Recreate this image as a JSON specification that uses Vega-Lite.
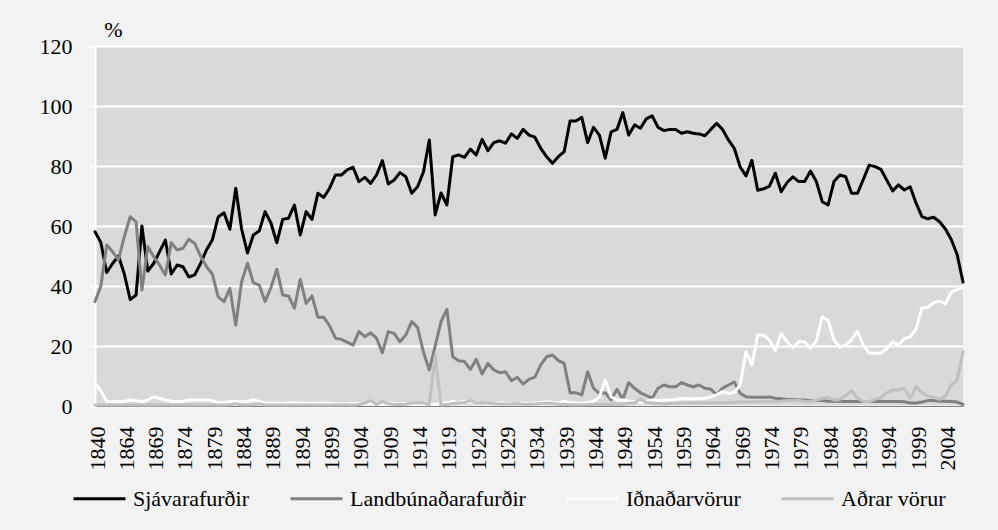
{
"$schema": "https://vega.github.io/schema/vega-lite/v6.json",
"width": 868, "height": 360,
"autosize": {"type": "none"},
"padding": {"left": 95, "top": 46, "right": 35, "bottom": 124},
"background": "#f2f2f2",
"config": {"view": {"fill": "#d9d9d9", "stroke": null}, "font": "Liberation Serif, Times New Roman, DejaVu Serif, serif"},
"data": {"values": [
{"year":1840,"series":"Sjávarafurðir","pct":58.1},{"year":1849,"series":"Sjávarafurðir","pct":54.5},{"year":1855,"series":"Sjávarafurðir","pct":44.5},{"year":1858,"series":"Sjávarafurðir","pct":47.5},{"year":1861,"series":"Sjávarafurðir","pct":50},
{"year":1864,"series":"Sjávarafurðir","pct":44},{"year":1865,"series":"Sjávarafurðir","pct":35.5},{"year":1866,"series":"Sjávarafurðir","pct":37},{"year":1867,"series":"Sjávarafurðir","pct":60},{"year":1868,"series":"Sjávarafurðir","pct":45},{"year":1869,"series":"Sjávarafurðir","pct":47.5},
{"year":1870,"series":"Sjávarafurðir","pct":51.4},{"year":1871,"series":"Sjávarafurðir","pct":55.3},{"year":1872,"series":"Sjávarafurðir","pct":44},{"year":1873,"series":"Sjávarafurðir","pct":47},{"year":1874,"series":"Sjávarafurðir","pct":46.4},{"year":1875,"series":"Sjávarafurðir","pct":43},{"year":1876,"series":"Sjávarafurðir","pct":43.7},{"year":1877,"series":"Sjávarafurðir","pct":47.5},{"year":1878,"series":"Sjávarafurðir","pct":52},{"year":1879,"series":"Sjávarafurðir","pct":55.3},
{"year":1880,"series":"Sjávarafurðir","pct":63},{"year":1881,"series":"Sjávarafurðir","pct":64.4},{"year":1882,"series":"Sjávarafurðir","pct":58.9},{"year":1883,"series":"Sjávarafurðir","pct":72.6},{"year":1884,"series":"Sjávarafurðir","pct":59},{"year":1885,"series":"Sjávarafurðir","pct":51},{"year":1886,"series":"Sjávarafurðir","pct":57},{"year":1887,"series":"Sjávarafurðir","pct":58.3},{"year":1888,"series":"Sjávarafurðir","pct":64.8},{"year":1889,"series":"Sjávarafurðir","pct":61},
{"year":1890,"series":"Sjávarafurðir","pct":54.4},{"year":1891,"series":"Sjávarafurðir","pct":62.2},{"year":1892,"series":"Sjávarafurðir","pct":62.6},{"year":1893,"series":"Sjávarafurðir","pct":67},{"year":1894,"series":"Sjávarafurðir","pct":57},{"year":1895,"series":"Sjávarafurðir","pct":64.8},{"year":1896,"series":"Sjávarafurðir","pct":62.2},{"year":1897,"series":"Sjávarafurðir","pct":70.9},{"year":1898,"series":"Sjávarafurðir","pct":69.5},{"year":1899,"series":"Sjávarafurðir","pct":72.6},
{"year":1900,"series":"Sjávarafurðir","pct":77},{"year":1901,"series":"Sjávarafurðir","pct":77},{"year":1902,"series":"Sjávarafurðir","pct":78.7},{"year":1903,"series":"Sjávarafurðir","pct":79.6},{"year":1904,"series":"Sjávarafurðir","pct":74.8},{"year":1905,"series":"Sjávarafurðir","pct":76.2},{"year":1906,"series":"Sjávarafurðir","pct":74.2},{"year":1907,"series":"Sjávarafurðir","pct":77},{"year":1908,"series":"Sjávarafurðir","pct":81.8},{"year":1909,"series":"Sjávarafurðir","pct":74},
{"year":1910,"series":"Sjávarafurðir","pct":75.3},{"year":1911,"series":"Sjávarafurðir","pct":77.8},{"year":1912,"series":"Sjávarafurðir","pct":76.4},{"year":1913,"series":"Sjávarafurðir","pct":70.9},{"year":1914,"series":"Sjávarafurðir","pct":73.1},{"year":1915,"series":"Sjávarafurðir","pct":78},{"year":1916,"series":"Sjávarafurðir","pct":88.7},{"year":1917,"series":"Sjávarafurðir","pct":63.7},{"year":1918,"series":"Sjávarafurðir","pct":71},{"year":1919,"series":"Sjávarafurðir","pct":67},
{"year":1920,"series":"Sjávarafurðir","pct":83.1},{"year":1921,"series":"Sjávarafurðir","pct":83.7},{"year":1922,"series":"Sjávarafurðir","pct":82.9},{"year":1923,"series":"Sjávarafurðir","pct":85.6},{"year":1924,"series":"Sjávarafurðir","pct":83.7},{"year":1925,"series":"Sjávarafurðir","pct":88.9},{"year":1926,"series":"Sjávarafurðir","pct":85.1},{"year":1927,"series":"Sjávarafurðir","pct":87.8},{"year":1928,"series":"Sjávarafurðir","pct":88.4},{"year":1929,"series":"Sjávarafurðir","pct":87.6},
{"year":1930,"series":"Sjávarafurðir","pct":90.7},{"year":1931,"series":"Sjávarafurðir","pct":89.2},{"year":1932,"series":"Sjávarafurðir","pct":92.2},{"year":1933,"series":"Sjávarafurðir","pct":90.3},{"year":1934,"series":"Sjávarafurðir","pct":89.6},{"year":1935,"series":"Sjávarafurðir","pct":85.9},{"year":1936,"series":"Sjávarafurðir","pct":83.1},{"year":1937,"series":"Sjávarafurðir","pct":80.9},{"year":1938,"series":"Sjávarafurðir","pct":83.1},{"year":1939,"series":"Sjávarafurðir","pct":84.8},
{"year":1940,"series":"Sjávarafurðir","pct":95},{"year":1941,"series":"Sjávarafurðir","pct":95},{"year":1942,"series":"Sjávarafurðir","pct":96.2},{"year":1943,"series":"Sjávarafurðir","pct":87.8},{"year":1944,"series":"Sjávarafurðir","pct":92.9},{"year":1945,"series":"Sjávarafurðir","pct":90.3},{"year":1946,"series":"Sjávarafurðir","pct":82.6},{"year":1947,"series":"Sjávarafurðir","pct":91.4},{"year":1948,"series":"Sjávarafurðir","pct":92.2},{"year":1949,"series":"Sjávarafurðir","pct":97.8},
{"year":1950,"series":"Sjávarafurðir","pct":90.3},{"year":1951,"series":"Sjávarafurðir","pct":93.7},{"year":1952,"series":"Sjávarafurðir","pct":92.6},{"year":1953,"series":"Sjávarafurðir","pct":95.7},{"year":1954,"series":"Sjávarafurðir","pct":96.7},{"year":1955,"series":"Sjávarafurðir","pct":92.9},{"year":1956,"series":"Sjávarafurðir","pct":91.8},{"year":1957,"series":"Sjávarafurðir","pct":92.2},{"year":1958,"series":"Sjávarafurðir","pct":92.2},{"year":1959,"series":"Sjávarafurðir","pct":90.9},
{"year":1960,"series":"Sjávarafurðir","pct":91.4},{"year":1961,"series":"Sjávarafurðir","pct":90.9},{"year":1962,"series":"Sjávarafurðir","pct":90.7},{"year":1963,"series":"Sjávarafurðir","pct":90.1},{"year":1964,"series":"Sjávarafurðir","pct":92.2},{"year":1965,"series":"Sjávarafurðir","pct":94.2},{"year":1966,"series":"Sjávarafurðir","pct":92.2},{"year":1967,"series":"Sjávarafurðir","pct":88.7},{"year":1968,"series":"Sjávarafurðir","pct":85.9},{"year":1969,"series":"Sjávarafurðir","pct":79.7},
{"year":1970,"series":"Sjávarafurðir","pct":76.7},{"year":1971,"series":"Sjávarafurðir","pct":81.9},{"year":1972,"series":"Sjávarafurðir","pct":71.9},{"year":1973,"series":"Sjávarafurðir","pct":72.4},{"year":1974,"series":"Sjávarafurðir","pct":73.3},{"year":1975,"series":"Sjávarafurðir","pct":77.6},{"year":1976,"series":"Sjávarafurðir","pct":71.4},{"year":1977,"series":"Sjávarafurðir","pct":74.5},{"year":1978,"series":"Sjávarafurðir","pct":76.4},{"year":1979,"series":"Sjávarafurðir","pct":74.8},
{"year":1980,"series":"Sjávarafurðir","pct":74.8},{"year":1981,"series":"Sjávarafurðir","pct":78.3},{"year":1982,"series":"Sjávarafurðir","pct":74.8},{"year":1983,"series":"Sjávarafurðir","pct":68.1},{"year":1984,"series":"Sjávarafurðir","pct":67},{"year":1985,"series":"Sjávarafurðir","pct":74.8},{"year":1986,"series":"Sjávarafurðir","pct":77},{"year":1987,"series":"Sjávarafurðir","pct":76.4},{"year":1988,"series":"Sjávarafurðir","pct":70.9},{"year":1989,"series":"Sjávarafurðir","pct":70.9},
{"year":1990,"series":"Sjávarafurðir","pct":75.5},{"year":1991,"series":"Sjávarafurðir","pct":80.3},{"year":1992,"series":"Sjávarafurðir","pct":79.8},{"year":1993,"series":"Sjávarafurðir","pct":78.9},{"year":1994,"series":"Sjávarafurðir","pct":75.3},{"year":1995,"series":"Sjávarafurðir","pct":71.7},{"year":1996,"series":"Sjávarafurðir","pct":73.7},{"year":1997,"series":"Sjávarafurðir","pct":72},{"year":1998,"series":"Sjávarafurðir","pct":73.1},{"year":1999,"series":"Sjávarafurðir","pct":67.6},
{"year":2000,"series":"Sjávarafurðir","pct":63.1},{"year":2001,"series":"Sjávarafurðir","pct":62.4},{"year":2002,"series":"Sjávarafurðir","pct":62.9},{"year":2003,"series":"Sjávarafurðir","pct":61.4},{"year":2004,"series":"Sjávarafurðir","pct":59},{"year":2005,"series":"Sjávarafurðir","pct":55.5},{"year":2006,"series":"Sjávarafurðir","pct":50.5},{"year":2007,"series":"Sjávarafurðir","pct":41.3},

{"year":1840,"series":"Landbúnaðarafurðir","pct":34.8},{"year":1849,"series":"Landbúnaðarafurðir","pct":40},{"year":1855,"series":"Landbúnaðarafurðir","pct":53.7},{"year":1858,"series":"Landbúnaðarafurðir","pct":51.4},{"year":1861,"series":"Landbúnaðarafurðir","pct":48.7},
{"year":1864,"series":"Landbúnaðarafurðir","pct":56.5},{"year":1865,"series":"Landbúnaðarafurðir","pct":63.1},{"year":1866,"series":"Landbúnaðarafurðir","pct":61.4},{"year":1867,"series":"Landbúnaðarafurðir","pct":38.7},{"year":1868,"series":"Landbúnaðarafurðir","pct":53.1},{"year":1869,"series":"Landbúnaðarafurðir","pct":49.8},
{"year":1870,"series":"Landbúnaðarafurðir","pct":47},{"year":1871,"series":"Landbúnaðarafurðir","pct":43.7},{"year":1872,"series":"Landbúnaðarafurðir","pct":54.4},{"year":1873,"series":"Landbúnaðarafurðir","pct":52},{"year":1874,"series":"Landbúnaðarafurðir","pct":52.6},{"year":1875,"series":"Landbúnaðarafurðir","pct":55.6},{"year":1876,"series":"Landbúnaðarafurðir","pct":54.2},{"year":1877,"series":"Landbúnaðarafurðir","pct":50},{"year":1878,"series":"Landbúnaðarafurðir","pct":46.5},{"year":1879,"series":"Landbúnaðarafurðir","pct":44},
{"year":1880,"series":"Landbúnaðarafurðir","pct":36.4},{"year":1881,"series":"Landbúnaðarafurðir","pct":34.8},{"year":1882,"series":"Landbúnaðarafurðir","pct":39.2},{"year":1883,"series":"Landbúnaðarafurðir","pct":27},{"year":1884,"series":"Landbúnaðarafurðir","pct":41.4},{"year":1885,"series":"Landbúnaðarafurðir","pct":47.6},{"year":1886,"series":"Landbúnaðarafurðir","pct":41.1},{"year":1887,"series":"Landbúnaðarafurðir","pct":40.3},{"year":1888,"series":"Landbúnaðarafurðir","pct":34.8},{"year":1889,"series":"Landbúnaðarafurðir","pct":39.5},
{"year":1890,"series":"Landbúnaðarafurðir","pct":45.6},{"year":1891,"series":"Landbúnaðarafurðir","pct":37},{"year":1892,"series":"Landbúnaðarafurðir","pct":36.7},{"year":1893,"series":"Landbúnaðarafurðir","pct":32.6},{"year":1894,"series":"Landbúnaðarafurðir","pct":42.2},{"year":1895,"series":"Landbúnaðarafurðir","pct":34.2},{"year":1896,"series":"Landbúnaðarafurðir","pct":36.7},{"year":1897,"series":"Landbúnaðarafurðir","pct":29.6},{"year":1898,"series":"Landbúnaðarafurðir","pct":29.6},{"year":1899,"series":"Landbúnaðarafurðir","pct":26.7},
{"year":1900,"series":"Landbúnaðarafurðir","pct":22.6},{"year":1901,"series":"Landbúnaðarafurðir","pct":22.2},{"year":1902,"series":"Landbúnaðarafurðir","pct":21.3},{"year":1903,"series":"Landbúnaðarafurðir","pct":20.3},{"year":1904,"series":"Landbúnaðarafurðir","pct":24.8},{"year":1905,"series":"Landbúnaðarafurðir","pct":23.1},{"year":1906,"series":"Landbúnaðarafurðir","pct":24.4},{"year":1907,"series":"Landbúnaðarafurðir","pct":22.6},{"year":1908,"series":"Landbúnaðarafurðir","pct":17.8},{"year":1909,"series":"Landbúnaðarafurðir","pct":24.8},
{"year":1910,"series":"Landbúnaðarafurðir","pct":24.2},{"year":1911,"series":"Landbúnaðarafurðir","pct":21.4},{"year":1912,"series":"Landbúnaðarafurðir","pct":23.7},{"year":1913,"series":"Landbúnaðarafurðir","pct":28.1},{"year":1914,"series":"Landbúnaðarafurðir","pct":26.2},{"year":1915,"series":"Landbúnaðarafurðir","pct":18},{"year":1916,"series":"Landbúnaðarafurðir","pct":12},{"year":1917,"series":"Landbúnaðarafurðir","pct":20},{"year":1918,"series":"Landbúnaðarafurðir","pct":28.1},{"year":1919,"series":"Landbúnaðarafurðir","pct":32.2},
{"year":1920,"series":"Landbúnaðarafurðir","pct":16.4},{"year":1921,"series":"Landbúnaðarafurðir","pct":15.1},{"year":1922,"series":"Landbúnaðarafurðir","pct":14.8},{"year":1923,"series":"Landbúnaðarafurðir","pct":12.2},{"year":1924,"series":"Landbúnaðarafurðir","pct":15.6},{"year":1925,"series":"Landbúnaðarafurðir","pct":10.7},{"year":1926,"series":"Landbúnaðarafurðir","pct":14.2},{"year":1927,"series":"Landbúnaðarafurðir","pct":12},{"year":1928,"series":"Landbúnaðarafurðir","pct":11.1},{"year":1929,"series":"Landbúnaðarafurðir","pct":11.4},
{"year":1930,"series":"Landbúnaðarafurðir","pct":8.4},{"year":1931,"series":"Landbúnaðarafurðir","pct":9.6},{"year":1932,"series":"Landbúnaðarafurðir","pct":7.3},{"year":1933,"series":"Landbúnaðarafurðir","pct":8.9},{"year":1934,"series":"Landbúnaðarafurðir","pct":9.6},{"year":1935,"series":"Landbúnaðarafurðir","pct":13.7},{"year":1936,"series":"Landbúnaðarafurðir","pct":16.4},{"year":1937,"series":"Landbúnaðarafurðir","pct":17},{"year":1938,"series":"Landbúnaðarafurðir","pct":15.1},{"year":1939,"series":"Landbúnaðarafurðir","pct":14.2},
{"year":1940,"series":"Landbúnaðarafurðir","pct":4.4},{"year":1941,"series":"Landbúnaðarafurðir","pct":4.4},{"year":1942,"series":"Landbúnaðarafurðir","pct":3.7},{"year":1943,"series":"Landbúnaðarafurðir","pct":11.4},{"year":1944,"series":"Landbúnaðarafurðir","pct":5.9},{"year":1945,"series":"Landbúnaðarafurðir","pct":4.2},{"year":1946,"series":"Landbúnaðarafurðir","pct":4.4},{"year":1947,"series":"Landbúnaðarafurðir","pct":2},{"year":1948,"series":"Landbúnaðarafurðir","pct":5.6},{"year":1949,"series":"Landbúnaðarafurðir","pct":2.2},
{"year":1950,"series":"Landbúnaðarafurðir","pct":7.8},{"year":1951,"series":"Landbúnaðarafurðir","pct":5.9},{"year":1952,"series":"Landbúnaðarafurðir","pct":4.4},{"year":1953,"series":"Landbúnaðarafurðir","pct":3.5},{"year":1954,"series":"Landbúnaðarafurðir","pct":2.6},{"year":1955,"series":"Landbúnaðarafurðir","pct":5.9},{"year":1956,"series":"Landbúnaðarafurðir","pct":7},{"year":1957,"series":"Landbúnaðarafurðir","pct":6.4},{"year":1958,"series":"Landbúnaðarafurðir","pct":6.4},{"year":1959,"series":"Landbúnaðarafurðir","pct":7.8},
{"year":1960,"series":"Landbúnaðarafurðir","pct":7},{"year":1961,"series":"Landbúnaðarafurðir","pct":6.4},{"year":1962,"series":"Landbúnaðarafurðir","pct":7},{"year":1963,"series":"Landbúnaðarafurðir","pct":5.9},{"year":1964,"series":"Landbúnaðarafurðir","pct":5.6},{"year":1965,"series":"Landbúnaðarafurðir","pct":3.7},{"year":1966,"series":"Landbúnaðarafurðir","pct":5.9},{"year":1967,"series":"Landbúnaðarafurðir","pct":7},{"year":1968,"series":"Landbúnaðarafurðir","pct":8},{"year":1969,"series":"Landbúnaðarafurðir","pct":4.2},
{"year":1970,"series":"Landbúnaðarafurðir","pct":3.1},{"year":1971,"series":"Landbúnaðarafurðir","pct":2.9},{"year":1972,"series":"Landbúnaðarafurðir","pct":2.9},{"year":1973,"series":"Landbúnaðarafurðir","pct":2.9},{"year":1974,"series":"Landbúnaðarafurðir","pct":3},{"year":1975,"series":"Landbúnaðarafurðir","pct":2.6},{"year":1976,"series":"Landbúnaðarafurðir","pct":2.4},{"year":1977,"series":"Landbúnaðarafurðir","pct":2.2},{"year":1978,"series":"Landbúnaðarafurðir","pct":2.2},{"year":1979,"series":"Landbúnaðarafurðir","pct":2},
{"year":1980,"series":"Landbúnaðarafurðir","pct":2},{"year":1981,"series":"Landbúnaðarafurðir","pct":1.8},{"year":1982,"series":"Landbúnaðarafurðir","pct":1.8},{"year":1983,"series":"Landbúnaðarafurðir","pct":1.8},{"year":1984,"series":"Landbúnaðarafurðir","pct":1.6},{"year":1985,"series":"Landbúnaðarafurðir","pct":1.6},{"year":1986,"series":"Landbúnaðarafurðir","pct":1.6},{"year":1987,"series":"Landbúnaðarafurðir","pct":1.5},{"year":1988,"series":"Landbúnaðarafurðir","pct":1.5},{"year":1989,"series":"Landbúnaðarafurðir","pct":1.5},
{"year":1990,"series":"Landbúnaðarafurðir","pct":1.5},{"year":1991,"series":"Landbúnaðarafurðir","pct":1.5},{"year":1992,"series":"Landbúnaðarafurðir","pct":1.5},{"year":1993,"series":"Landbúnaðarafurðir","pct":1.6},{"year":1994,"series":"Landbúnaðarafurðir","pct":1.5},{"year":1995,"series":"Landbúnaðarafurðir","pct":1.5},{"year":1996,"series":"Landbúnaðarafurðir","pct":1.5},{"year":1997,"series":"Landbúnaðarafurðir","pct":1.4},{"year":1998,"series":"Landbúnaðarafurðir","pct":1},{"year":1999,"series":"Landbúnaðarafurðir","pct":1},
{"year":2000,"series":"Landbúnaðarafurðir","pct":1.3},{"year":2001,"series":"Landbúnaðarafurðir","pct":1.8},{"year":2002,"series":"Landbúnaðarafurðir","pct":1.8},{"year":2003,"series":"Landbúnaðarafurðir","pct":1.6},{"year":2004,"series":"Landbúnaðarafurðir","pct":1.6},{"year":2005,"series":"Landbúnaðarafurðir","pct":1.5},{"year":2006,"series":"Landbúnaðarafurðir","pct":1.3},{"year":2007,"series":"Landbúnaðarafurðir","pct":0.5},

{"year":1840,"series":"Iðnaðarvörur","pct":7.6},{"year":1849,"series":"Iðnaðarvörur","pct":5},{"year":1855,"series":"Iðnaðarvörur","pct":1.5},{"year":1858,"series":"Iðnaðarvörur","pct":1.4},{"year":1861,"series":"Iðnaðarvörur","pct":1.4},
{"year":1864,"series":"Iðnaðarvörur","pct":1.5},{"year":1865,"series":"Iðnaðarvörur","pct":2},{"year":1866,"series":"Iðnaðarvörur","pct":1.8},{"year":1867,"series":"Iðnaðarvörur","pct":1.4},{"year":1868,"series":"Iðnaðarvörur","pct":2},{"year":1869,"series":"Iðnaðarvörur","pct":3.1},
{"year":1870,"series":"Iðnaðarvörur","pct":2.5},{"year":1871,"series":"Iðnaðarvörur","pct":2},{"year":1872,"series":"Iðnaðarvörur","pct":1.6},{"year":1873,"series":"Iðnaðarvörur","pct":1.4},{"year":1874,"series":"Iðnaðarvörur","pct":1.6},{"year":1875,"series":"Iðnaðarvörur","pct":2},{"year":1876,"series":"Iðnaðarvörur","pct":2},{"year":1877,"series":"Iðnaðarvörur","pct":2},{"year":1878,"series":"Iðnaðarvörur","pct":2},{"year":1879,"series":"Iðnaðarvörur","pct":1.8},
{"year":1880,"series":"Iðnaðarvörur","pct":1.1},{"year":1881,"series":"Iðnaðarvörur","pct":1.2},{"year":1882,"series":"Iðnaðarvörur","pct":1.4},{"year":1883,"series":"Iðnaðarvörur","pct":1.6},{"year":1884,"series":"Iðnaðarvörur","pct":1.3},{"year":1885,"series":"Iðnaðarvörur","pct":1.5},{"year":1886,"series":"Iðnaðarvörur","pct":2},{"year":1887,"series":"Iðnaðarvörur","pct":1.5},{"year":1888,"series":"Iðnaðarvörur","pct":1},{"year":1889,"series":"Iðnaðarvörur","pct":1},
{"year":1890,"series":"Iðnaðarvörur","pct":1},{"year":1891,"series":"Iðnaðarvörur","pct":0.8},{"year":1892,"series":"Iðnaðarvörur","pct":1},{"year":1893,"series":"Iðnaðarvörur","pct":1.2},{"year":1894,"series":"Iðnaðarvörur","pct":1},{"year":1895,"series":"Iðnaðarvörur","pct":0.8},{"year":1896,"series":"Iðnaðarvörur","pct":0.8},{"year":1897,"series":"Iðnaðarvörur","pct":1},{"year":1898,"series":"Iðnaðarvörur","pct":1},{"year":1899,"series":"Iðnaðarvörur","pct":0.8},
{"year":1900,"series":"Iðnaðarvörur","pct":0.7},{"year":1901,"series":"Iðnaðarvörur","pct":0.7},{"year":1902,"series":"Iðnaðarvörur","pct":0.7},{"year":1903,"series":"Iðnaðarvörur","pct":0.8},{"year":1904,"series":"Iðnaðarvörur","pct":0.8},{"year":1905,"series":"Iðnaðarvörur","pct":1},{"year":1906,"series":"Iðnaðarvörur","pct":0.8},{"year":1907,"series":"Iðnaðarvörur","pct":0.8},{"year":1908,"series":"Iðnaðarvörur","pct":0.7},{"year":1909,"series":"Iðnaðarvörur","pct":1},
{"year":1910,"series":"Iðnaðarvörur","pct":0.8},{"year":1911,"series":"Iðnaðarvörur","pct":0.7},{"year":1912,"series":"Iðnaðarvörur","pct":0.8},{"year":1913,"series":"Iðnaðarvörur","pct":0.6},{"year":1914,"series":"Iðnaðarvörur","pct":0.6},{"year":1915,"series":"Iðnaðarvörur","pct":0.6},{"year":1916,"series":"Iðnaðarvörur","pct":0.5},{"year":1917,"series":"Iðnaðarvörur","pct":0.5},{"year":1918,"series":"Iðnaðarvörur","pct":1},{"year":1919,"series":"Iðnaðarvörur","pct":1},
{"year":1920,"series":"Iðnaðarvörur","pct":1.5},{"year":1921,"series":"Iðnaðarvörur","pct":1.2},{"year":1922,"series":"Iðnaðarvörur","pct":1.5},{"year":1923,"series":"Iðnaðarvörur","pct":1.2},{"year":1924,"series":"Iðnaðarvörur","pct":1},{"year":1925,"series":"Iðnaðarvörur","pct":1.2},{"year":1926,"series":"Iðnaðarvörur","pct":1},{"year":1927,"series":"Iðnaðarvörur","pct":0.8},{"year":1928,"series":"Iðnaðarvörur","pct":1},{"year":1929,"series":"Iðnaðarvörur","pct":1},
{"year":1930,"series":"Iðnaðarvörur","pct":0.8},{"year":1931,"series":"Iðnaðarvörur","pct":0.8},{"year":1932,"series":"Iðnaðarvörur","pct":1},{"year":1933,"series":"Iðnaðarvörur","pct":0.8},{"year":1934,"series":"Iðnaðarvörur","pct":1},{"year":1935,"series":"Iðnaðarvörur","pct":1.2},{"year":1936,"series":"Iðnaðarvörur","pct":1.5},{"year":1937,"series":"Iðnaðarvörur","pct":1.2},{"year":1938,"series":"Iðnaðarvörur","pct":1},{"year":1939,"series":"Iðnaðarvörur","pct":1.5},
{"year":1940,"series":"Iðnaðarvörur","pct":1.2},{"year":1941,"series":"Iðnaðarvörur","pct":1},{"year":1942,"series":"Iðnaðarvörur","pct":0.8},{"year":1943,"series":"Iðnaðarvörur","pct":1.2},{"year":1944,"series":"Iðnaðarvörur","pct":1.5},{"year":1945,"series":"Iðnaðarvörur","pct":3},{"year":1946,"series":"Iðnaðarvörur","pct":8.7},{"year":1947,"series":"Iðnaðarvörur","pct":3.1},{"year":1948,"series":"Iðnaðarvörur","pct":2},{"year":1949,"series":"Iðnaðarvörur","pct":2},
{"year":1950,"series":"Iðnaðarvörur","pct":1.5},{"year":1951,"series":"Iðnaðarvörur","pct":1.5},{"year":1952,"series":"Iðnaðarvörur","pct":1.2},{"year":1953,"series":"Iðnaðarvörur","pct":1.5},{"year":1954,"series":"Iðnaðarvörur","pct":2},{"year":1955,"series":"Iðnaðarvörur","pct":1.8},{"year":1956,"series":"Iðnaðarvörur","pct":2},{"year":1957,"series":"Iðnaðarvörur","pct":2},{"year":1958,"series":"Iðnaðarvörur","pct":2.2},{"year":1959,"series":"Iðnaðarvörur","pct":2.5},
{"year":1960,"series":"Iðnaðarvörur","pct":2.4},{"year":1961,"series":"Iðnaðarvörur","pct":2.3},{"year":1962,"series":"Iðnaðarvörur","pct":2.5},{"year":1963,"series":"Iðnaðarvörur","pct":2.6},{"year":1964,"series":"Iðnaðarvörur","pct":3},{"year":1965,"series":"Iðnaðarvörur","pct":3.7},{"year":1966,"series":"Iðnaðarvörur","pct":4.8},{"year":1967,"series":"Iðnaðarvörur","pct":4.2},{"year":1968,"series":"Iðnaðarvörur","pct":4.5},{"year":1969,"series":"Iðnaðarvörur","pct":7},
{"year":1970,"series":"Iðnaðarvörur","pct":18.1},{"year":1971,"series":"Iðnaðarvörur","pct":13.7},{"year":1972,"series":"Iðnaðarvörur","pct":23.7},{"year":1973,"series":"Iðnaðarvörur","pct":23.7},{"year":1974,"series":"Iðnaðarvörur","pct":22},{"year":1975,"series":"Iðnaðarvörur","pct":18.4},{"year":1976,"series":"Iðnaðarvörur","pct":24.2},{"year":1977,"series":"Iðnaðarvörur","pct":21.4},{"year":1978,"series":"Iðnaðarvörur","pct":19.4},{"year":1979,"series":"Iðnaðarvörur","pct":21.4},
{"year":1980,"series":"Iðnaðarvörur","pct":21.4},{"year":1981,"series":"Iðnaðarvörur","pct":19.2},{"year":1982,"series":"Iðnaðarvörur","pct":21.8},{"year":1983,"series":"Iðnaðarvörur","pct":29.7},{"year":1984,"series":"Iðnaðarvörur","pct":28.5},{"year":1985,"series":"Iðnaðarvörur","pct":22},{"year":1986,"series":"Iðnaðarvörur","pct":19.6},{"year":1987,"series":"Iðnaðarvörur","pct":20.3},{"year":1988,"series":"Iðnaðarvörur","pct":22},{"year":1989,"series":"Iðnaðarvörur","pct":25},
{"year":1990,"series":"Iðnaðarvörur","pct":20.3},{"year":1991,"series":"Iðnaðarvörur","pct":17.6},{"year":1992,"series":"Iðnaðarvörur","pct":17.6},{"year":1993,"series":"Iðnaðarvörur","pct":17.6},{"year":1994,"series":"Iðnaðarvörur","pct":19.1},{"year":1995,"series":"Iðnaðarvörur","pct":21.4},{"year":1996,"series":"Iðnaðarvörur","pct":20.3},{"year":1997,"series":"Iðnaðarvörur","pct":22.4},{"year":1998,"series":"Iðnaðarvörur","pct":23},{"year":1999,"series":"Iðnaðarvörur","pct":25.6},
{"year":2000,"series":"Iðnaðarvörur","pct":32.6},{"year":2001,"series":"Iðnaðarvörur","pct":32.9},{"year":2002,"series":"Iðnaðarvörur","pct":34.4},{"year":2003,"series":"Iðnaðarvörur","pct":35},{"year":2004,"series":"Iðnaðarvörur","pct":34},{"year":2005,"series":"Iðnaðarvörur","pct":38},{"year":2006,"series":"Iðnaðarvörur","pct":38.8},{"year":2007,"series":"Iðnaðarvörur","pct":39.4},

{"year":1840,"series":"Aðrar vörur","pct":0.3},{"year":1849,"series":"Aðrar vörur","pct":0.3},{"year":1855,"series":"Aðrar vörur","pct":0.3},{"year":1858,"series":"Aðrar vörur","pct":0.3},{"year":1861,"series":"Aðrar vörur","pct":0.3},
{"year":1864,"series":"Aðrar vörur","pct":0.3},{"year":1865,"series":"Aðrar vörur","pct":0.3},{"year":1866,"series":"Aðrar vörur","pct":0.3},{"year":1867,"series":"Aðrar vörur","pct":0.3},{"year":1868,"series":"Aðrar vörur","pct":0.3},{"year":1869,"series":"Aðrar vörur","pct":0.3},
{"year":1870,"series":"Aðrar vörur","pct":0.4},{"year":1871,"series":"Aðrar vörur","pct":0.3},{"year":1872,"series":"Aðrar vörur","pct":0.3},{"year":1873,"series":"Aðrar vörur","pct":0.3},{"year":1874,"series":"Aðrar vörur","pct":0.3},{"year":1875,"series":"Aðrar vörur","pct":0.3},{"year":1876,"series":"Aðrar vörur","pct":0.3},{"year":1877,"series":"Aðrar vörur","pct":0.3},{"year":1878,"series":"Aðrar vörur","pct":0.3},{"year":1879,"series":"Aðrar vörur","pct":0.3},
{"year":1880,"series":"Aðrar vörur","pct":0.3},{"year":1881,"series":"Aðrar vörur","pct":0.3},{"year":1882,"series":"Aðrar vörur","pct":0.4},{"year":1883,"series":"Aðrar vörur","pct":0.8},{"year":1884,"series":"Aðrar vörur","pct":0.3},{"year":1885,"series":"Aðrar vörur","pct":0.3},{"year":1886,"series":"Aðrar vörur","pct":0.4},{"year":1887,"series":"Aðrar vörur","pct":0.8},{"year":1888,"series":"Aðrar vörur","pct":0.3},{"year":1889,"series":"Aðrar vörur","pct":0.3},
{"year":1890,"series":"Aðrar vörur","pct":0.3},{"year":1891,"series":"Aðrar vörur","pct":0.3},{"year":1892,"series":"Aðrar vörur","pct":0.3},{"year":1893,"series":"Aðrar vörur","pct":0.3},{"year":1894,"series":"Aðrar vörur","pct":0.3},{"year":1895,"series":"Aðrar vörur","pct":0.3},{"year":1896,"series":"Aðrar vörur","pct":0.3},{"year":1897,"series":"Aðrar vörur","pct":0.3},{"year":1898,"series":"Aðrar vörur","pct":0.3},{"year":1899,"series":"Aðrar vörur","pct":0.3},
{"year":1900,"series":"Aðrar vörur","pct":0.3},{"year":1901,"series":"Aðrar vörur","pct":0.3},{"year":1902,"series":"Aðrar vörur","pct":0.3},{"year":1903,"series":"Aðrar vörur","pct":0.3},{"year":1904,"series":"Aðrar vörur","pct":0.5},{"year":1905,"series":"Aðrar vörur","pct":1},{"year":1906,"series":"Aðrar vörur","pct":1.8},{"year":1907,"series":"Aðrar vörur","pct":0.5},{"year":1908,"series":"Aðrar vörur","pct":1.5},{"year":1909,"series":"Aðrar vörur","pct":0.8},
{"year":1910,"series":"Aðrar vörur","pct":0.5},{"year":1911,"series":"Aðrar vörur","pct":0.5},{"year":1912,"series":"Aðrar vörur","pct":0.6},{"year":1913,"series":"Aðrar vörur","pct":1},{"year":1914,"series":"Aðrar vörur","pct":1.1},{"year":1915,"series":"Aðrar vörur","pct":1},{"year":1916,"series":"Aðrar vörur","pct":0.5},{"year":1917,"series":"Aðrar vörur","pct":17},{"year":1918,"series":"Aðrar vörur","pct":0.3},{"year":1919,"series":"Aðrar vörur","pct":0.5},
{"year":1920,"series":"Aðrar vörur","pct":0.8},{"year":1921,"series":"Aðrar vörur","pct":1},{"year":1922,"series":"Aðrar vörur","pct":1.2},{"year":1923,"series":"Aðrar vörur","pct":1.8},{"year":1924,"series":"Aðrar vörur","pct":1},{"year":1925,"series":"Aðrar vörur","pct":1.2},{"year":1926,"series":"Aðrar vörur","pct":1},{"year":1927,"series":"Aðrar vörur","pct":0.8},{"year":1928,"series":"Aðrar vörur","pct":0.7},{"year":1929,"series":"Aðrar vörur","pct":0.7},
{"year":1930,"series":"Aðrar vörur","pct":0.7},{"year":1931,"series":"Aðrar vörur","pct":0.8},{"year":1932,"series":"Aðrar vörur","pct":0.6},{"year":1933,"series":"Aðrar vörur","pct":0.6},{"year":1934,"series":"Aðrar vörur","pct":0.7},{"year":1935,"series":"Aðrar vörur","pct":0.8},{"year":1936,"series":"Aðrar vörur","pct":1},{"year":1937,"series":"Aðrar vörur","pct":0.8},{"year":1938,"series":"Aðrar vörur","pct":0.6},{"year":1939,"series":"Aðrar vörur","pct":0.6},
{"year":1940,"series":"Aðrar vörur","pct":0.4},{"year":1941,"series":"Aðrar vörur","pct":0.4},{"year":1942,"series":"Aðrar vörur","pct":0.4},{"year":1943,"series":"Aðrar vörur","pct":0.5},{"year":1944,"series":"Aðrar vörur","pct":0.6},{"year":1945,"series":"Aðrar vörur","pct":0.6},{"year":1946,"series":"Aðrar vörur","pct":0.5},{"year":1947,"series":"Aðrar vörur","pct":0.6},{"year":1948,"series":"Aðrar vörur","pct":0.7},{"year":1949,"series":"Aðrar vörur","pct":0.5},
{"year":1950,"series":"Aðrar vörur","pct":1},{"year":1951,"series":"Aðrar vörur","pct":1},{"year":1952,"series":"Aðrar vörur","pct":2.4},{"year":1953,"series":"Aðrar vörur","pct":1.2},{"year":1954,"series":"Aðrar vörur","pct":1},{"year":1955,"series":"Aðrar vörur","pct":0.8},{"year":1956,"series":"Aðrar vörur","pct":0.7},{"year":1957,"series":"Aðrar vörur","pct":0.8},{"year":1958,"series":"Aðrar vörur","pct":0.8},{"year":1959,"series":"Aðrar vörur","pct":1},
{"year":1960,"series":"Aðrar vörur","pct":1},{"year":1961,"series":"Aðrar vörur","pct":1},{"year":1962,"series":"Aðrar vörur","pct":1},{"year":1963,"series":"Aðrar vörur","pct":1},{"year":1964,"series":"Aðrar vörur","pct":1},{"year":1965,"series":"Aðrar vörur","pct":1},{"year":1966,"series":"Aðrar vörur","pct":1.1},{"year":1967,"series":"Aðrar vörur","pct":1.2},{"year":1968,"series":"Aðrar vörur","pct":1.2},{"year":1969,"series":"Aðrar vörur","pct":1.4},
{"year":1970,"series":"Aðrar vörur","pct":1.3},{"year":1971,"series":"Aðrar vörur","pct":1.3},{"year":1972,"series":"Aðrar vörur","pct":1.4},{"year":1973,"series":"Aðrar vörur","pct":1.4},{"year":1974,"series":"Aðrar vörur","pct":1.4},{"year":1975,"series":"Aðrar vörur","pct":1.5},{"year":1976,"series":"Aðrar vörur","pct":1.6},{"year":1977,"series":"Aðrar vörur","pct":1.8},{"year":1978,"series":"Aðrar vörur","pct":1.8},{"year":1979,"series":"Aðrar vörur","pct":1.8},
{"year":1980,"series":"Aðrar vörur","pct":1.6},{"year":1981,"series":"Aðrar vörur","pct":1.6},{"year":1982,"series":"Aðrar vörur","pct":2},{"year":1983,"series":"Aðrar vörur","pct":2.5},{"year":1984,"series":"Aðrar vörur","pct":2.9},{"year":1985,"series":"Aðrar vörur","pct":2},{"year":1986,"series":"Aðrar vörur","pct":2.2},{"year":1987,"series":"Aðrar vörur","pct":3.5},{"year":1988,"series":"Aðrar vörur","pct":5.1},{"year":1989,"series":"Aðrar vörur","pct":2.6},
{"year":1990,"series":"Aðrar vörur","pct":1.5},{"year":1991,"series":"Aðrar vörur","pct":1.5},{"year":1992,"series":"Aðrar vörur","pct":2.2},{"year":1993,"series":"Aðrar vörur","pct":2.8},{"year":1994,"series":"Aðrar vörur","pct":4.4},{"year":1995,"series":"Aðrar vörur","pct":5.3},{"year":1996,"series":"Aðrar vörur","pct":5.3},{"year":1997,"series":"Aðrar vörur","pct":5.9},{"year":1998,"series":"Aðrar vörur","pct":2.6},{"year":1999,"series":"Aðrar vörur","pct":6.4},
{"year":2000,"series":"Aðrar vörur","pct":4.4},{"year":2001,"series":"Aðrar vörur","pct":3.3},{"year":2002,"series":"Aðrar vörur","pct":2.9},{"year":2003,"series":"Aðrar vörur","pct":2.2},{"year":2004,"series":"Aðrar vörur","pct":3.3},{"year":2005,"series":"Aðrar vörur","pct":7},{"year":2006,"series":"Aðrar vörur","pct":8.7},{"year":2007,"series":"Aðrar vörur","pct":18.1}
]},
"mark": {"type": "line", "strokeWidth": 3, "strokeJoin": "round", "strokeCap": "round"},
"encoding": {
"x": {"field": "year", "type": "ordinal", "scale": {"type": "point", "padding": 0},
 "axis": {"values": [1840,1864,1869,1874,1879,1884,1889,1894,1899,1904,1909,1914,1919,1924,1929,1934,1939,1944,1949,1954,1959,1964,1969,1974,1979,1984,1989,1994,1999,2004],
 "labelAngle": -90, "labelFontSize": 22, "labelFont": "Liberation Serif, Times New Roman, DejaVu Serif, serif", "labelColor": "#000000", "labelOverlap": false,
 "ticks": false, "labelPadding": 20, "labelOffset": 2, "domainColor": "#7f7f7f", "domainWidth": 1, "title": null, "grid": false}},
"y": {"field": "pct", "type": "quantitative", "scale": {"domain": [0, 120], "nice": false},
 "axis": {"values": [0,20,40,60,80,100,120], "gridColor": "#ffffff", "gridWidth": 2, "gridOpacity": 1,
 "tickColor": "#ffffff", "tickSize": 6, "tickWidth": 2, "domainColor": "#ffffff", "domainWidth": 2,
 "labelFontSize": 22, "labelFont": "Liberation Serif, Times New Roman, DejaVu Serif, serif", "labelPadding": 17, "labelColor": "#000000",
 "title": "%", "titleAngle": 0, "titleX": 18, "titleY": -10, "titleFontSize": 22, "titleFont": "Liberation Serif, Times New Roman, DejaVu Serif, serif",
 "titleFontWeight": "normal", "titleAlign": "center", "titleBaseline": "alphabetic", "titleColor": "#000000"}},
"color": {"field": "series", "type": "nominal",
 "scale": {"domain": ["Sjávarafurðir","Landbúnaðarafurðir","Iðnaðarvörur","Aðrar vörur"], "range": ["#000000","#808080","#ffffff","#c0c0c0"]},
 "legend": {"orient": "none", "legendX": -23, "legendY": 425, "direction": "horizontal", "title": null,
 "symbolType": "stroke", "symbolSize": 2704, "symbolStrokeWidth": 3, "labelFontSize": 22, "labelFont": "Liberation Serif, Times New Roman, DejaVu Serif, serif",
 "labelOffset": 6, "columnPadding": 34, "padding": 0, "labelColor": "#000000", "labelLimit": 400}}
}
}
